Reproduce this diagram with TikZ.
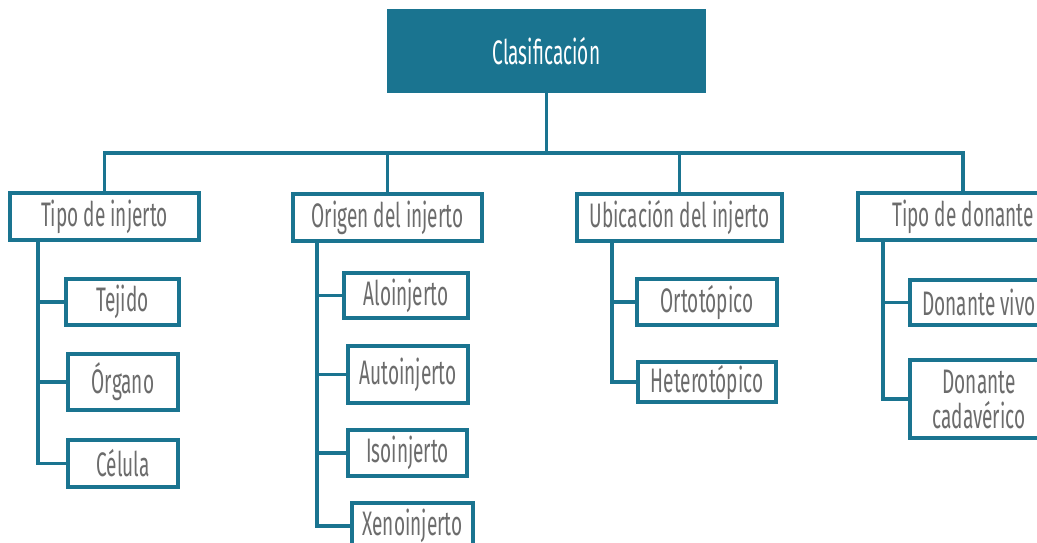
\documentclass[tikz,border=0pt]{standalone}
\usepackage{fontspec}
\setmainfont{Fira Sans}[FakeStretch=0.56]
\definecolor{teal}{HTML}{1A7490}
\definecolor{txt}{HTML}{6C6C6C}
\begin{document}
\begin{tikzpicture}[x=1pt,y=-1pt,
  box/.style={draw=teal,line width=3.8pt,fill=white,inner sep=0pt,text=txt,font=\fontsize{34}{35}\selectfont,align=center},
  conn/.style={draw=teal,line width=3.8pt}]
\useasboundingbox (0,0) rectangle (1037,542);
\fill[white] (0,0) rectangle (1037,542);
% top
\node[fill=teal,inner sep=0pt,minimum width=319pt,minimum height=84pt,text=white,font=\fontsize{34}{35}\selectfont] (top) at (546.5,51) {Clasificación};
% level 1
\node[box,minimum width=189pt,minimum height=47pt] (b1) at (104.5,216.5) {Tipo de injerto};
\node[box,minimum width=189pt,minimum height=47pt] (b2) at (387.5,217.5) {Origen del injerto};
\node[box,minimum width=205pt,minimum height=47pt] (b3) at (679.5,217.5) {Ubicación del injerto};
\node[box,minimum width=210pt,minimum height=47pt] (b4) at (963,216.5) {Tipo de donante};
% children 1
\node[box,minimum width=113pt,minimum height=46pt] (c11) at (122.5,302) {Tejido};
\node[box,minimum width=110pt,minimum height=56pt] (c12) at (123,382) {Órgano};
\node[box,minimum width=110pt,minimum height=47pt] (c13) at (123,463.5) {Célula};
% children 2
\node[box,minimum width=124pt,minimum height=45pt] (c21) at (406,295.5) {Aloinjerto};
\node[box,minimum width=120pt,minimum height=57pt] (c22) at (408,374.5) {Autoinjerto};
\node[box,minimum width=119pt,minimum height=46pt] (c23) at (407.5,453) {Isoinjerto};
\node[box,minimum width=121pt,minimum height=46pt] (c24) at (412.5,526) {\raisebox{4pt}{Xenoinjerto}};
% children 3
\node[box,minimum width=140pt,minimum height=46pt] (c31) at (707,302) {Ortotópico};
\node[box,minimum width=138pt,minimum height=40pt] (c32) at (707,382) {Heterotópico};
% children 4
\node[box,minimum width=138pt,minimum height=45pt] (c41) at (979,302.5) {Donante vivo};
\node[box,minimum width=138pt,minimum height=78pt] (c42) at (979,399) {Donante\\cadavérico};
% bus
\coordinate (bus) at (546.5,153);
\draw[conn] (top.south) -- (bus);
\draw[conn] (b1.north) |- (bus) -| (b4.north);
\draw[conn] (b2.north) -- (b2.north |- bus);
\draw[conn] (b3.north) -- (b3.north |- bus);
% trunks
\coordinate (t1) at (38,240);
\coordinate (t2) at (317,241);
\coordinate (t3) at (612,241);
\coordinate (t4) at (883,240);
\draw[conn] (t1) |- (c13.west);
\draw[conn] (t1 |- c11.west) -- (c11.west);
\draw[conn] (t1 |- c12.west) -- (c12.west);
\draw[conn] (t2) |- (c24.west);
\draw[conn] (t2 |- c21.west) -- (c21.west);
\draw[conn] (t2 |- c22.west) -- (c22.west);
\draw[conn] (t2 |- c23.west) -- (c23.west);
\draw[conn] (t3) |- (c32.west);
\draw[conn] (t3 |- c31.west) -- (c31.west);
\draw[conn] (t4) |- (c42.west);
\draw[conn] (t4 |- c41.west) -- (c41.west);
\end{tikzpicture}
\end{document}
